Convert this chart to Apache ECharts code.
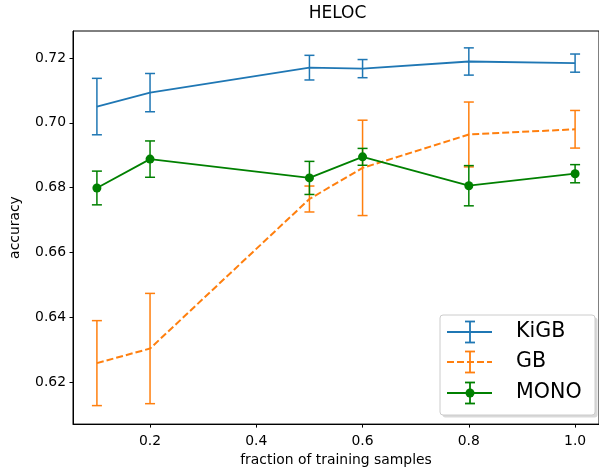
<!DOCTYPE html>
<html>
<head>
<meta charset="utf-8">
<script src="https://cdn.jsdelivr.net/npm/echarts@6/dist/echarts.min.js"></script>
<style>
html, body { margin: 0; padding: 0; background: #fff; }
#chart { width: 599px; height: 472px; }
</style>
</head>
<body>
<div id="chart"></div>
<script>
// x 取值（训练样本比例）
var fractions = [0.1, 0.2, 0.5, 0.6, 0.8, 1.0];
// 各方法的均值和误差
var kigbMean = [0.7050, 0.7093, 0.7170, 0.7167, 0.7189, 0.7184];
var kigbErr = [0.0087, 0.0059, 0.0038, 0.0028, 0.0042, 0.0028];
var gbMean = [0.6259, 0.6304, 0.6765, 0.6861, 0.6964, 0.6980];
var gbErr = [0.0131, 0.0170, 0.0040, 0.0147, 0.0100, 0.0058];
var monoMean = [0.6799, 0.6888, 0.6830, 0.6895, 0.6806, 0.6843];
var monoErr = [0.0052, 0.0056, 0.0051, 0.0026, 0.0062, 0.0028];
var xTicks = [0.2, 0.4, 0.6, 0.8, 1.0];
var yTicks = [0.62, 0.64, 0.66, 0.68, 0.70, 0.72];

var FONT = 'DejaVu Sans';
var BLUE = '#1f77b4', ORANGE = '#ff7f0e', GREEN = '#008000';

function pts(mean) {
	return fractions.map(function(x, i) { return [x, mean[i]]; });
}
function errPts(mean, err) {
	return fractions.map(function(x, i) { return [x, mean[i] - err[i], mean[i] + err[i]]; });
}
// 误差棒
function errRender(color) {
	return function(params, api) {
		var x = api.value(0);
		var lo = api.coord([x, api.value(1)]);
		var hi = api.coord([x, api.value(2)]);
		var cap = 5;
		var st = { stroke: color, lineWidth: 1.5 };
		return {
			type: 'group',
			children: [
				{ type: 'line', shape: { x1: lo[0], y1: lo[1], x2: hi[0], y2: hi[1] }, style: st },
				{ type: 'line', shape: { x1: lo[0] - cap, y1: lo[1], x2: lo[0] + cap, y2: lo[1] }, style: st },
				{ type: 'line', shape: { x1: hi[0] - cap, y1: hi[1], x2: hi[0] + cap, y2: hi[1] }, style: st }
			]
		};
	};
}

// 图例（手画）
function legendItem(y, color, label, dashed, dot) {
	var st = { stroke: color, lineWidth: 1.8 };
	var items = [
		{ type: 'line', shape: { x1: 447, y1: y, x2: 492, y2: y }, style: Object.assign({}, st, dashed ? { lineDash: [7, 3] } : {}) },
		{ type: 'line', shape: { x1: 470, y1: y - 10.5, x2: 470, y2: y + 10.5 }, style: st },
		{ type: 'line', shape: { x1: 465, y1: y - 10.5, x2: 475, y2: y - 10.5 }, style: st },
		{ type: 'line', shape: { x1: 465, y1: y + 10.5, x2: 475, y2: y + 10.5 }, style: st },
		{ type: 'text', x: 516, y: y, style: { text: label, fill: '#000', font: '20.6px "' + FONT + '"', textVerticalAlign: 'middle' } }
	];
	if (dot) items.push({ type: 'circle', shape: { cx: 470, cy: y, r: 4.5 }, style: { fill: color } });
	return items;
}

var chart = echarts.init(document.getElementById('chart'));
chart.setOption({
	animation: false,
	backgroundColor: '#fff',
	grid: { left: 73, top: 31, right: -3, bottom: 47, show: true, borderColor: '#000', borderWidth: 1, backgroundColor: 'transparent' },
	xAxis: {
		type: 'value', min: 0.055, max: 1.045,
		name: 'fraction of training samples', nameLocation: 'middle', nameGap: 17,
		nameTextStyle: { fontFamily: FONT, fontSize: 13.9, color: '#000' },
		axisLine: { show: true, lineStyle: { color: '#000' } },
		axisTick: { show: true, length: 3.5, customValues: xTicks, lineStyle: { color: '#000' } },
		axisLabel: { customValues: xTicks, margin: 10, fontFamily: FONT, fontSize: 13.9, color: '#000', formatter: function(v) { return v.toFixed(1); } },
		splitLine: { show: false }
	},
	yAxis: {
		type: 'value', min: 0.6071, max: 0.7283,
		name: 'accuracy', nameLocation: 'middle', nameGap: 51,
		nameTextStyle: { fontFamily: FONT, fontSize: 13.9, color: '#000' },
		axisLine: { show: true, lineStyle: { color: '#000' } },
		axisTick: { show: true, length: 3.5, customValues: yTicks, lineStyle: { color: '#000' } },
		axisLabel: { customValues: yTicks, margin: 7, fontFamily: FONT, fontSize: 13.9, color: '#000', formatter: function(v) { return v.toFixed(2); } },
		splitLine: { show: false }
	},
	graphic: [
		{ type: 'text', x: 337.5, y: 14, style: { text: 'HELOC', fill: '#000', font: '17px "' + FONT + '"', textAlign: 'center', textVerticalAlign: 'middle' } },
		{ type: 'rect', shape: { x: 442.5, y: 317.5, width: 155, height: 100, r: 3 }, style: { fill: '#aaa', opacity: 0.45 } },
		{ type: 'rect', shape: { x: 440, y: 315, width: 155, height: 100, r: 3 }, style: { fill: '#fff', stroke: '#ccc', lineWidth: 1 } }
	].concat(legendItem(332, BLUE, 'KiGB', false, false))
	 .concat(legendItem(362, ORANGE, 'GB', true, false))
	 .concat(legendItem(393, GREEN, 'MONO', false, true)),
	series: [
		{ type: 'line', data: pts(kigbMean), symbol: 'none', lineStyle: { color: BLUE, width: 1.8 }, itemStyle: { color: BLUE } },
		{ type: 'custom', data: errPts(kigbMean, kigbErr), renderItem: errRender(BLUE) },
		{ type: 'line', data: pts(gbMean), symbol: 'none', lineStyle: { color: ORANGE, width: 2, type: [7, 3] }, itemStyle: { color: ORANGE } },
		{ type: 'custom', data: errPts(gbMean, gbErr), renderItem: errRender(ORANGE) },
		{ type: 'line', data: pts(monoMean), symbol: 'circle', symbolSize: 9, lineStyle: { color: GREEN, width: 1.8 }, itemStyle: { color: GREEN } },
		{ type: 'custom', data: errPts(monoMean, monoErr), renderItem: errRender(GREEN) }
	]
});
</script>
</body>
</html>
